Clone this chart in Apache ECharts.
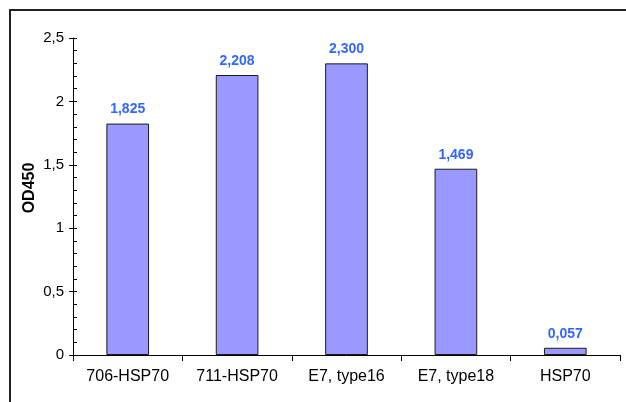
<!DOCTYPE html>
<html>
<head>
<meta charset="utf-8">
<script src="https://cdn.jsdelivr.net/npm/echarts@6/dist/echarts.min.js"></script>
<style>
  html, body { margin: 0; padding: 0; background: #fff; }
  #chart { width: 626px; height: 402px; }
</style>
</head>
<body>
<div id="chart"></div>
<script>
// Samples and measured optical density at 450 nm
var categories = ['706-HSP70', '711-HSP70', 'E7, type16', 'E7, type18', 'HSP70'];
var od450 = [1.825, 2.208, 2.300, 1.469, 0.057];
var axisTitle = 'OD450';

function commaDecimal(v, digits) {
  return v.toFixed(digits).replace('.', ',');
}

var chart = echarts.init(document.getElementById('chart'), null, { renderer: 'canvas' });

var font = 'Liberation Sans, Arial, sans-serif';

chart.setOption({
  backgroundColor: '#ffffff',
  animation: false,
  grid: { left: 73, right: 6, top: 38, bottom: 47 },
  xAxis: {
    type: 'category',
    data: categories,
    axisLine: { lineStyle: { color: '#000', width: 1 } },
    axisTick: { show: true, length: 6, lineStyle: { color: '#000' } },
    axisLabel: { color: '#000', fontFamily: font, fontSize: 16, margin: 14 }
  },
  yAxis: [
    {
      type: 'value',
      min: 0, max: 2.5, interval: 0.5,
      axisLine: { show: true, lineStyle: { color: '#000', width: 1 } },
      axisTick: { show: true, length: 4, lineStyle: { color: '#000' } },
      axisLabel: {
        color: '#000', fontFamily: font, fontSize: 15, margin: 9,
        formatter: function (v) { return String(v).replace('.', ','); }
      },
      splitLine: { show: false }
    },
    {
      // inner minor ticks every 0.1
      type: 'value',
      position: 'left',
      min: 0, max: 2.5, interval: 0.1,
      axisLine: { show: false },
      axisTick: { show: true, inside: true, length: 4, lineStyle: { color: '#000' } },
      axisLabel: { show: false },
      splitLine: { show: false }
    }
  ],
  series: [{
    type: 'bar',
    data: od450,
    barWidth: '39%',
    itemStyle: { color: '#9999FF', borderColor: '#1a1a1a', borderWidth: 1 },
    label: {
      show: true,
      position: 'top',
      distance: 7,
      color: '#3366FF',
      fontFamily: font,
      fontWeight: 'bold',
      fontSize: 14,
      formatter: function (p) { return commaDecimal(p.value, 3); }
    }
  }],
  graphic: [
    {
      type: 'rect',
      shape: { x: 10, y: 10, width: 640, height: 420 },
      style: { fill: 'none', stroke: '#222', lineWidth: 2 },
      silent: true
    },
    {
      type: 'text',
      x: 30, y: 188,
      rotation: Math.PI / 2,
      style: {
        text: axisTitle,
        fill: '#000',
        font: 'bold 16px ' + font,
        textAlign: 'center',
        textVerticalAlign: 'middle'
      }
    }
  ]
});
</script>
</body>
</html>
